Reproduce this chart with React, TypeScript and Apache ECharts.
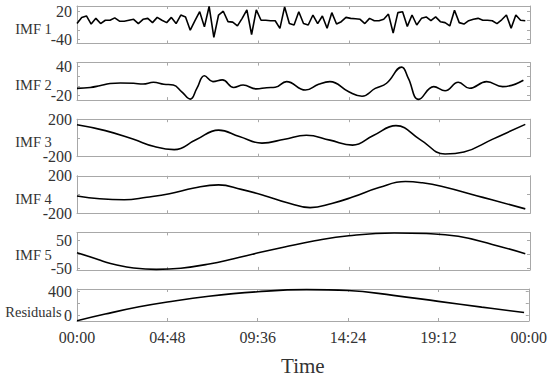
import React, { useEffect, useRef } from "react";
import * as echarts from "echarts";

// ---------- data ----------
const panelNames = ["IMF 1", "IMF 2", "IMF 3", "IMF 4", "IMF 5", "Residuals"];
const timeTickMinutes = [0, 288, 576, 864, 1152, 1440];

// IMF 1: sampled every 15 minutes
const imf1SampleMinutes = 15;
const imf1Values = [
  -6, 7, 10, -7, 5, -6, 1, 1, 6, -1,
  -1, 1, 3, -6, 3, 5, -4, 7, 1, -4,
  7, -6, 12, 8, -20, 0, 19, -13, 30, -35,
  12, 20, -2, -3, -11, 5, 23, -29, 23, 1,
  1, 0, 0, -16, 29, -6, -9, 19, -6, -9,
  12, -6, 10, -16, 17, -7, -2, 7, 5, 4,
  3, -6, 5, 0, 0, 3, 14, -26, 17, 19,
  -12, 12, -9, 5, 8, 0, 8, -2, -4, -11,
  22, -4, -7, 0, 3, 5, 1, 1, 0, -6,
  2, 12, -16, 12, 1, 0,
];

const imf2Hours = [0, 0.7, 1.2, 1.75, 2.3, 3.0, 3.5, 4.05, 4.6, 5.1, 5.55, 6.0, 6.35, 6.75, 7.2, 7.7, 8.3, 8.8, 9.5, 10.05, 10.5, 11.1, 12.1, 12.8, 13.4, 14.4, 15.1, 15.8, 16.4, 17.2, 17.55, 18.1, 18.9, 19.5, 20.2, 20.8, 21.7, 22.55, 23.65];
const imf2Values = [-5, -3, 0.5, 5, 6, 5.5, 4, 7.5, 3.5, 2, -12, -27, -5, 21, 9, 12.5, -3, 2, -6, -3.5, -2.7, 9, -8.3, 3.5, 9, -12, -21, -5, 5.6, 38.7, 16, -27.5, -1.4, -9.7, 7.6, -4.8, 9, -1.4, 11.8];

const imf3Hours = [0, 1.5, 3, 4.1, 5.15, 6.3, 7.5, 8.6, 9.8, 11, 12.15, 13.4, 14.6, 15.7, 16.9, 18.2, 19.5, 20.5, 22, 23.75];
const imf3Values = [140, 78, -15, -92, -124, -20, 84, 15, -55, -13, 29, -23, -76, 27, 131, -20, -171, -150, -15, 145];

const imf4Hours = [0, 1.2, 2.5, 3.7, 4.9, 6.2, 7.5, 8.7, 9.9, 11.1, 12.35, 13.5, 14.6, 16, 17.4, 18.3, 19.3, 21.5, 23.75];
const imf4Values = [-16, -45, -56, -28, 9, 70, 103, 55, -9, -85, -139, -95, -27, 75, 139, 125, 88, -30, -153];

const imf5Hours = [0, 1, 1.5, 2, 3, 4.2, 5.5, 7, 8.3, 9.6, 11, 12.6, 14.4, 16.8, 18.5, 20.2, 22, 23.75];
const imf5Values = [5, -16, -28, -37, -49, -54, -50, -35, -16, 5, 26, 48, 66, 76, 74, 64, 35, 2];

const residualHours = [0, 1.5, 3.3, 4.8, 7, 9.6, 12.2, 14.4, 16.8, 19.2, 21.5, 23.75];
const residualValues = [-85, 25, 145, 225, 320, 395, 430, 415, 335, 235, 140, 50];

const yMins = [-48, -29, -200, -200, -56, -90];
const yMaxs = [31, 48, 200, 200, 78, 440];
const yTickValues = [
  [-40, -20, 0, 20],
  [-20, 0, 20, 40],
  [-200, 0, 200],
  [-200, 0, 200],
  [-50, 0, 50],
  [0, 200, 400],
];
const yLabelValues = [
  [-40, 20],
  [-20, 40],
  [-200, 200],
  [-200, 200],
  [-50, 50],
  [0, 400],
];

// ---------- layout / style ----------
const FONT = '"Liberation Serif", "Times New Roman", serif';
const TEXT = "#333333";
const AXIS = "#a8a8a8";
const GRID_LEFT = 77;
const GRID_WIDTH = 453;
const GRID_TOP0 = 6;
const GRID_STEP = 56.6;
const GRID_H = 37.5;

const pad2 = (n: number) => (n < 10 ? "0" + n : "" + n);
const fmtTime = (m: number) => {
  const mm = ((Math.round(m) % 1440) + 1440) % 1440;
  return pad2(Math.floor(mm / 60)) + ":" + pad2(mm % 60);
};

const toPairs = (hours: number[], values: number[]) =>
  hours.map((h, i) => [h * 60, values[i]]);

export default function App() {
  const ref = useRef<HTMLDivElement>(null);

  useEffect(() => {
    if (!ref.current) return;
    const chart = echarts.init(ref.current, undefined, { renderer: "svg" });

    const seriesData = [
      imf1Values.map((v, i) => [i * imf1SampleMinutes, v]),
      toPairs(imf2Hours, imf2Values),
      toPairs(imf3Hours, imf3Values),
      toPairs(imf4Hours, imf4Values),
      toPairs(imf5Hours, imf5Values),
      toPairs(residualHours, residualValues),
    ];

    const grids: any[] = [];
    const xAxes: any[] = [];
    const yAxes: any[] = [];
    const series: any[] = [];
    const graphics: any[] = [];

    panelNames.forEach((name, i) => {
      const top = GRID_TOP0 + i * GRID_STEP;
      grids.push({ left: GRID_LEFT, width: GRID_WIDTH, top, height: GRID_H });
      const isLast = i === panelNames.length - 1;
      const xBase = {
        gridIndex: i,
        type: "value",
        min: timeTickMinutes[0],
        max: timeTickMinutes[timeTickMinutes.length - 1],
        interval: 288,
        splitLine: { show: false },
        axisLine: { show: true, onZero: false, lineStyle: { color: AXIS, width: 1 } },
        axisTick: { show: true, inside: true, length: 3, lineStyle: { color: AXIS } },
      };
      xAxes.push({
        ...xBase,
        position: "bottom",
        axisLabel: {
          show: isLast,
          formatter: (v: number) => fmtTime(v),
          fontFamily: FONT,
          fontSize: 16,
          color: TEXT,
          margin: 8,
        },
        name: isLast ? "Time" : "",
        nameLocation: "middle",
        nameGap: 34,
        nameTextStyle: { fontFamily: FONT, fontSize: 21, color: TEXT },
      });
      xAxes.push({ ...xBase, position: "top", axisLabel: { show: false } });

      const yBase = {
        gridIndex: i,
        type: "value",
        min: yMins[i],
        max: yMaxs[i],
        splitLine: { show: false },
        axisLine: { show: true, onZero: false, lineStyle: { color: AXIS, width: 1 } },
        axisTick: {
          show: true,
          inside: true,
          length: 3,
          customValues: yTickValues[i],
          lineStyle: { color: AXIS },
        },
      };
      yAxes.push({
        ...yBase,
        position: "left",
        axisLabel: {
          show: true,
          customValues: yLabelValues[i],
          fontFamily: FONT,
          fontSize: 16,
          color: TEXT,
          margin: 5,
        },
      });
      yAxes.push({ ...yBase, position: "right", axisLabel: { show: false } });

      series.push({
        type: "line",
        name,
        xAxisIndex: 2 * i,
        yAxisIndex: 2 * i,
        data: seriesData[i],
        showSymbol: false,
        smooth: i === 0 ? false : 0.45,
        lineStyle: { color: "#000000", width: 1.6 },
        clip: false,
      });

      graphics.push({
        type: "text",
        x: 33.5,
        y: top + GRID_H / 2 + 4,
        style: {
          text: name,
          fontFamily: FONT,
          fontSize: 14.5,
          fill: TEXT,
          textAlign: "center",
          textVerticalAlign: "middle",
        },
      });
    });

    chart.setOption({
      animation: false,
      backgroundColor: "#ffffff",
      grid: grids,
      xAxis: xAxes,
      yAxis: yAxes,
      series,
      graphic: graphics,
    });

    return () => chart.dispose();
  }, []);

  return (
    <div
      ref={ref}
      style={{ position: "fixed", left: 0, top: 0, width: 550, height: 377, background: "#fff" }}
    />
  );
}
